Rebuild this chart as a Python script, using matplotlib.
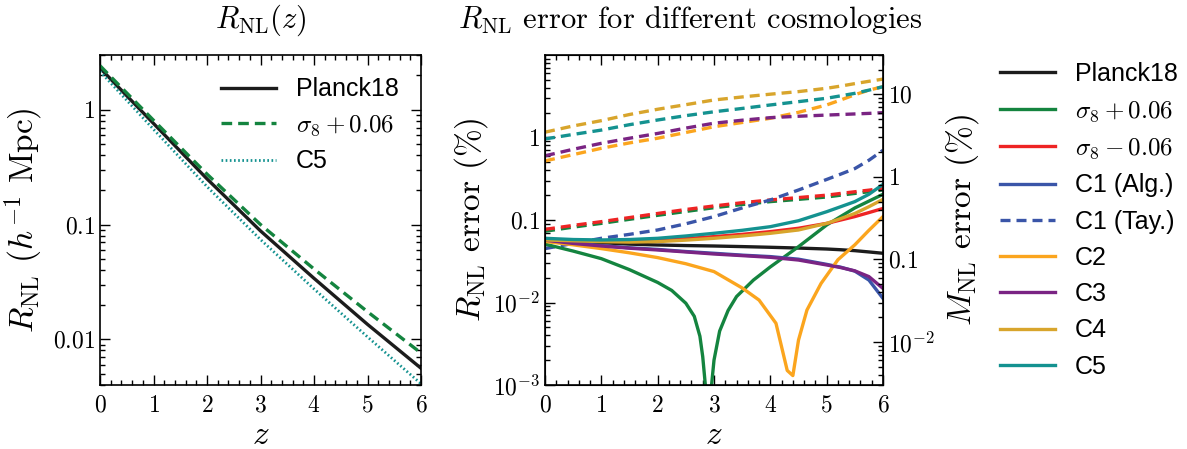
import matplotlib
matplotlib.use("Agg")
import matplotlib.pyplot as plt
from matplotlib.ticker import FixedLocator, FixedFormatter, LogLocator, MultipleLocator, NullFormatter

plt.rcParams['mathtext.fontset'] = 'cm'
plt.rcParams['font.family'] = ['Liberation Sans', 'DejaVu Sans']

# ---- R_NL(z) in h^-1 Mpc ----
z_r = [0, 1, 2, 3, 4, 5, 6]
r_planck18 = [2.31, 0.76, 0.25, 0.088, 0.034, 0.0135, 0.0056]
r_s8_plus = [2.42, 0.81, 0.275, 0.100, 0.041, 0.0174, 0.0076]
r_c5 = [2.16, 0.676, 0.214, 0.074, 0.0275, 0.0105, 0.0041]

# ---- R_NL error (%) for different cosmologies ----
z_err = [0, 0.5, 1, 1.5, 2, 2.5, 3, 3.5, 4, 4.5, 5, 5.25, 5.5, 5.75, 6]
err_planck18 = [0.058, 0.0555, 0.053, 0.051, 0.0498, 0.049, 0.0484, 0.0476, 0.0467, 0.0457, 0.0445, 0.0436, 0.0425, 0.041, 0.0395]
err_s8_minus = [0.057, 0.0565, 0.056, 0.056, 0.057, 0.0595, 0.0629, 0.067, 0.0723, 0.0794, 0.091, 0.100, 0.110, 0.123, 0.138]
err_c1_alg = [0.056, 0.052, 0.049, 0.046, 0.044, 0.0415, 0.0395, 0.0375, 0.036, 0.0335, 0.029, 0.0268, 0.024, 0.0187, 0.0112]
err_c3 = [0.057, 0.052, 0.0484, 0.0455, 0.0433, 0.041, 0.0387, 0.037, 0.0353, 0.0327, 0.0285, 0.0265, 0.0242, 0.0206, 0.0148]
err_c4 = [0.0573, 0.056, 0.0547, 0.054, 0.0547, 0.057, 0.060, 0.064, 0.069, 0.0757, 0.091, 0.104, 0.120, 0.145, 0.178]
err_c5 = [0.060, 0.058, 0.0573, 0.058, 0.060, 0.064, 0.069, 0.075, 0.083, 0.098, 0.126, 0.145, 0.167, 0.205, 0.270]

z_s8p = [0, 0.5, 1, 1.5, 2, 2.25, 2.5, 2.65, 2.75, 2.8, 2.9, 3.0, 3.1, 3.25, 3.4, 3.7, 4, 4.5, 5, 5.5, 6]
err_s8_plus = [0.051, 0.042, 0.034, 0.025, 0.0175, 0.014, 0.0098, 0.0068, 0.0039, 0.0022, 0.0004, 0.0020, 0.0045, 0.0080, 0.0118, 0.0187, 0.027, 0.0475, 0.087, 0.14, 0.205]

z_c2 = [0, 0.5, 1, 1.5, 2, 2.5, 3, 3.5, 3.8, 4.1, 4.3, 4.4, 4.5, 4.65, 4.9, 5.2, 5.5, 5.75, 6]
err_c2 = [0.055, 0.050, 0.045, 0.040, 0.035, 0.0295, 0.0237, 0.015, 0.0107, 0.0056, 0.0015, 0.0013, 0.0035, 0.0081, 0.017, 0.033, 0.050, 0.075, 0.110]

# Taylor-expansion errors (dashed)
tay_s8_plus = [0.073, 0.082, 0.091, 0.102, 0.114, 0.127, 0.141, 0.154, 0.167, 0.178, 0.190, 0.200, 0.210, 0.220, 0.232]
tay_s8_minus = [0.077, 0.086, 0.0955, 0.107, 0.120, 0.134, 0.148, 0.162, 0.175, 0.187, 0.200, 0.210, 0.220, 0.230, 0.242]
tay_c1 = [0.045, 0.052, 0.060, 0.067, 0.0757, 0.090, 0.110, 0.140, 0.175, 0.231, 0.310, 0.360, 0.420, 0.530, 0.700]
tay_c2 = [0.52, 0.62, 0.74, 0.86, 0.98, 1.15, 1.35, 1.52, 1.71, 2.02, 2.48, 2.85, 3.30, 3.75, 4.13]
tay_c3 = [0.60, 0.72, 0.85, 0.98, 1.12, 1.30, 1.49, 1.62, 1.74, 1.81, 1.87, 1.90, 1.93, 1.96, 2.00]
tay_c4 = [1.16, 1.38, 1.60, 1.90, 2.20, 2.50, 2.85, 3.10, 3.35, 3.60, 3.95, 4.20, 4.50, 4.80, 5.10]
tay_c5 = [0.96, 1.09, 1.23, 1.43, 1.63, 1.84, 2.05, 2.25, 2.48, 2.72, 2.99, 3.20, 3.43, 3.75, 4.13]

col = {
    'planck18': '#1c1c1c',
    's8p': '#14843f',
    's8m': '#ee2424',
    'c1': '#3a55a8',
    'c2': '#fba51e',
    'c3': '#7a2483',
    'c4': '#d8a52c',
    'c5': '#149290',
}

TICK_FS = 17
LAB_FS = 24
LEG_FS = 18
TITLE_FS = 22
SERIF = 'cmr10'

fig = plt.figure(figsize=(11.87, 4.49), dpi=100)
ax1 = fig.add_axes([100 / 1187, 64 / 449, 321 / 1187, 330 / 449])
ax2 = fig.add_axes([545 / 1187, 64 / 449, 338 / 1187, 330 / 449])


def tick_style(ax, right=True):
    ax.tick_params(which='both', direction='in', top=True, right=right, labelsize=TICK_FS, width=1.0)
    ax.tick_params(which='major', length=7)
    ax.tick_params(which='minor', length=3.5)
    ax.tick_params(axis='x', pad=7)
    for s in ax.spines.values():
        s.set_linewidth(1.2)


def z_axis(ax):
    ax.set_xlim(0, 6)
    ax.xaxis.set_major_locator(FixedLocator(range(0, 7)))
    ax.xaxis.set_major_formatter(FixedFormatter([r'$%d$' % v for v in range(0, 7)]))
    ax.xaxis.set_minor_locator(MultipleLocator(0.2))
    ax.set_xlabel(r'$z$', fontsize=LAB_FS, labelpad=2)


def log_y(ax, lo, hi, ticks, labels):
    ax.set_yscale('log')
    ax.set_ylim(lo, hi)
    ax.yaxis.set_major_locator(FixedLocator(ticks))
    ax.yaxis.set_major_formatter(FixedFormatter(labels))
    ax.yaxis.set_minor_locator(LogLocator(base=10, subs=range(2, 10)))
    ax.yaxis.set_minor_formatter(NullFormatter())


# ---- left panel ----
ax1.plot(z_r, r_planck18, color=col['planck18'], lw=2.4, label='Planck18')
ax1.plot(z_r, r_s8_plus, color=col['s8p'], lw=2.4, ls=(0, (3.2, 1.8)), label=r'$\sigma_8+0.06$')
ax1.plot(z_r, r_c5, color=col['c5'], lw=2.0, ls=(0, (0.6, 0.9)), label='C5')
log_y(ax1, 0.004, 3.0, [0.01, 0.1, 1], [r'$0.01$', r'$0.1$', r'$1$'])
z_axis(ax1)
ax1.set_ylabel(r'$R_{\rm NL}$ ($h^{-1}$ Mpc)', fontsize=LAB_FS, labelpad=6, family=SERIF)
tick_style(ax1)
ax1.legend(loc='upper right', frameon=False, fontsize=LEG_FS, handlelength=2.2,
           handletextpad=0.8, labelspacing=0.45, borderaxespad=0.5)

# ---- right panel ----
dash = (0, (3.0, 1.8))
ax2.plot(z_err, tay_s8_plus, color=col['s8p'], lw=2.4, ls=dash)
ax2.plot(z_err, tay_s8_minus, color=col['s8m'], lw=2.4, ls=dash)
ax2.plot(z_err, tay_c2, color=col['c2'], lw=2.4, ls=dash)
ax2.plot(z_err, tay_c3, color=col['c3'], lw=2.4, ls=dash)
ax2.plot(z_err, tay_c4, color=col['c4'], lw=2.4, ls=dash)
ax2.plot(z_err, tay_c5, color=col['c5'], lw=2.4, ls=dash)
ax2.plot(z_err, tay_c1, color=col['c1'], lw=2.4, ls=dash, label='C1 (Tay.)')

ax2.plot(z_err, err_planck18, color=col['planck18'], lw=2.4, label='Planck18')
ax2.plot(z_s8p, err_s8_plus, color=col['s8p'], lw=2.4, label=r'$\sigma_8+0.06$')
ax2.plot(z_err, err_s8_minus, color=col['s8m'], lw=2.4, label=r'$\sigma_8-0.06$')
ax2.plot(z_err, err_c1_alg, color=col['c1'], lw=2.4, label='C1 (Alg.)')
ax2.plot(z_c2, err_c2, color=col['c2'], lw=2.4, label='C2')
ax2.plot(z_err, err_c3, color=col['c3'], lw=2.4, label='C3')
ax2.plot(z_err, err_c4, color=col['c4'], lw=2.4, label='C4')
ax2.plot(z_err, err_c5, color=col['c5'], lw=2.4, label='C5')

log_y(ax2, 1e-3, 10, [1e-3, 1e-2, 0.1, 1], [r'$10^{-3}$', r'$10^{-2}$', r'$0.1$', r'$1$'])
z_axis(ax2)
ax2.set_ylabel(r'$R_{\rm NL}$ error (%)', fontsize=LAB_FS, labelpad=2, family=SERIF)
tick_style(ax2, right=False)

# M_NL error scale: dM/M = 3 dR/R
ax3 = ax2.twinx()
log_y(ax3, 3e-3, 30, [1e-2, 0.1, 1, 10], [r'$10^{-2}$', r'$0.1$', r'$1$', r'$10$'])
ax3.tick_params(which='both', direction='in', labelsize=TICK_FS, width=1.0)
ax3.tick_params(which='major', length=7)
ax3.tick_params(which='minor', length=3.5)
ax3.set_ylabel(r'$M_{\rm NL}$ error (%)', fontsize=LAB_FS, labelpad=6, family=SERIF)

# panel titles
fig.text(261 / 1187, 1 - 28 / 449, r'$R_{\rm NL}(z)$', fontsize=TITLE_FS, ha='center', va='baseline')
fig.text(690 / 1187, 1 - 28 / 449, r'$R_{\rm NL}$ error for different cosmologies',
         fontsize=TITLE_FS, ha='center', va='baseline', family=SERIF)

# legend outside the right panel
order = ['Planck18', r'$\sigma_8+0.06$', r'$\sigma_8-0.06$', 'C1 (Alg.)', 'C1 (Tay.)', 'C2', 'C3', 'C4', 'C5']
h, l = ax2.get_legend_handles_labels()
hmap = dict(zip(l, h))
fig.legend([hmap[k] for k in order], order, loc='upper left', bbox_to_anchor=(990 / 1187, 1 - 52 / 449),
           frameon=False, fontsize=LEG_FS, handlelength=2.2, handletextpad=0.8, labelspacing=0.49,
           borderaxespad=0)

fig.savefig('out.png', dpi=100)
